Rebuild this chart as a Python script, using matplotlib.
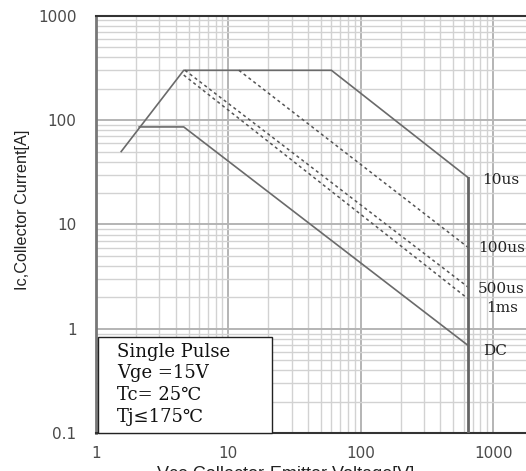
import matplotlib
matplotlib.use("Agg")
import matplotlib.pyplot as plt
from matplotlib.patches import Rectangle
from matplotlib.ticker import FixedLocator, NullFormatter, LogLocator

# ---- data ----
vce_10us = [1.55, 4.6, 60, 650]
ic_10us = [50, 300, 300, 28]
vce_dc = [2.12, 4.6, 650]
ic_dc = [86, 86, 0.69]
vce_100us = [12, 650]
ic_100us = [300, 6.0]
vce_500us = [4.7, 650]
ic_500us = [300, 2.5]
vce_1ms = [4.6, 650]
ic_1ms = [270, 1.93]
vce_limit = [650, 650]
ic_limit = [28, 0.1]

x_ticks = [1, 10, 100, 1000]
x_ticklabels = ["1", "10", "100", "1000"]
y_ticks = [0.1, 1, 10, 100, 1000]
y_ticklabels = ["0.1", "1", "10", "100", "1000"]

curve_labels = ["10us", "100us", "500us", "1ms", "DC"]
info_lines = ["Single Pulse", "Vge =15V", "Tc= 25\u2103", "Tj\u2264175\u2103"]

W, H = 526, 471
fig = plt.figure(figsize=(W / 100, H / 100), dpi=100)
ax = fig.add_axes([96 / W, 1 - 433.3 / H, 1 - 96 / W, (433.3 - 15.7) / H])
ax.set_xscale("log")
ax.set_yscale("log")
ax.set_xlim(1, 1770)
ax.set_ylim(0.1, 1000)

# grid
ax.xaxis.set_minor_locator(LogLocator(base=10, subs=range(2, 10)))
ax.yaxis.set_minor_locator(LogLocator(base=10, subs=range(2, 10)))
ax.xaxis.set_minor_formatter(NullFormatter())
ax.yaxis.set_minor_formatter(NullFormatter())
ax.grid(which="minor", color="#d2d2d2", lw=1.0)
ax.grid(which="major", color="#b4b4b4", lw=1.4)
ax.set_axisbelow(True)

ax.xaxis.set_major_locator(FixedLocator(x_ticks))
ax.yaxis.set_major_locator(FixedLocator(y_ticks))
ax.set_xticklabels(x_ticklabels)
ax.set_yticklabels(y_ticklabels)
ax.tick_params(which="both", length=0)
ax.tick_params(axis="y", pad=14, labelsize=11, labelcolor="#4a4a4a")
ax.tick_params(axis="x", pad=9, labelsize=11, labelcolor="#4a4a4a")

for s in ["top", "bottom"]:
    ax.spines[s].set_color("#333333")
    ax.spines[s].set_linewidth(1.5)
ax.spines["left"].set_color("#777777")
ax.spines["left"].set_linewidth(2.0)
ax.spines["right"].set_visible(False)

solid = dict(color="#6a6a6a", lw=1.2, zorder=3)
dash = dict(color="#555555", lw=1.1, ls=(0, (2, 2)), zorder=3)
ax.plot(vce_10us, ic_10us, **solid)
ax.plot(vce_dc, ic_dc, **solid)
ax.plot(vce_100us, ic_100us, **dash)
ax.plot(vce_500us, ic_500us, **dash)
ax.plot(vce_1ms, ic_1ms, **dash)
ax.plot(vce_limit, ic_limit, color="#666666", lw=2.0, zorder=3)

serif = ["DejaVu Serif", "DejaVu Sans"]
label_pos = [(823, 26.4), (768, 5.89), (768, 2.42), (883, 1.6), (835, 0.616)]
for lab, (lx, ly) in zip(curve_labels, label_pos):
    ax.text(lx, ly, lab, family=serif, fontsize=11, color="#222222",
            ha="left", va="center", zorder=5)

# info box
ax.add_patch(Rectangle((1.03, 0.1), 21.2 - 1.03, 0.833 - 0.1, facecolor="white",
                       edgecolor="#222222", lw=1.0, zorder=4, clip_on=False))
box_y = [0.60, 0.379, 0.233, 0.1436]
for line, ly in zip(info_lines, box_y):
    ax.text(1.44, ly, line, family=serif, fontsize=13, color="#111111",
            ha="left", va="center", zorder=5)

sans = ["Liberation Sans", "DejaVu Sans"]
fig.text(23 / W, 1 - 210 / H, "Ic,Collector Current[A]", rotation=90,
         family=sans, fontsize=11.7, color="#222222", ha="center", va="center")
fig.text(286 / W, 1 - 466 / H, "Vce,Collector-Emitter Voltage[V]",
         family=sans, fontsize=13, color="#222222", ha="center", va="top")

fig.savefig("out.png", dpi=100)
